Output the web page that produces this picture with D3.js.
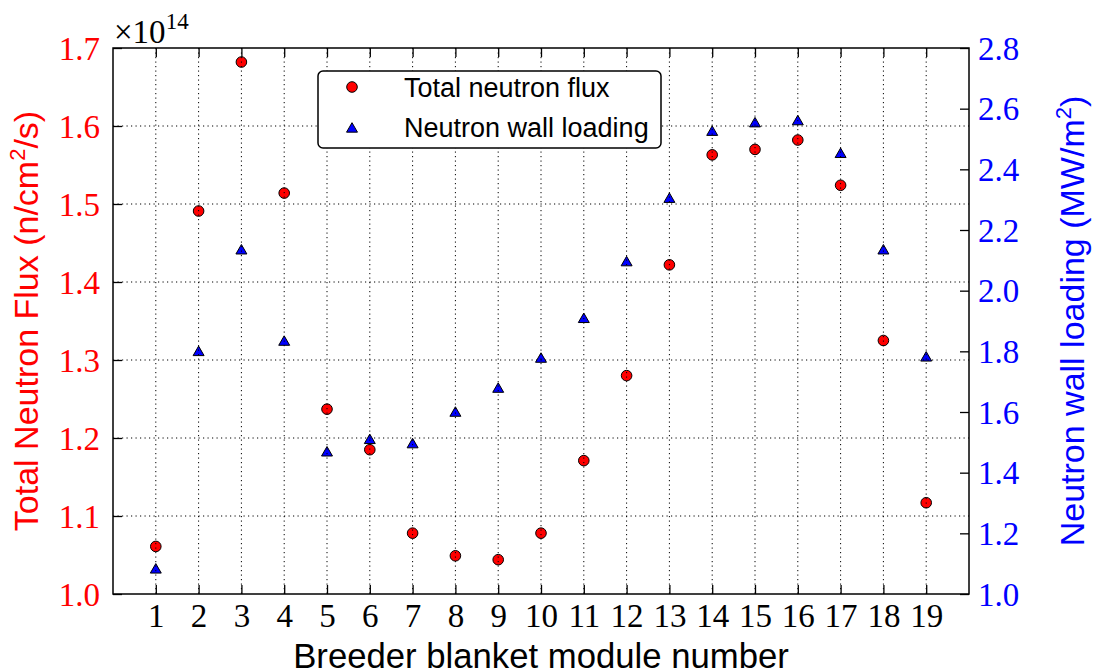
<!DOCTYPE html>
<html>
<head>
<meta charset="utf-8">
<script src="https://cdnjs.cloudflare.com/ajax/libs/d3/7.8.5/d3.min.js"></script>
<style>
  body { margin: 0; background: #fff; }
  .tick text { font-family: "Liberation Serif", "DejaVu Serif", serif; }
</style>
</head>
<body>
<script>
// Module numbers
var modules = [1, 2, 3, 4, 5, 6, 7, 8, 9, 10, 11, 12, 13, 14, 15, 16, 17, 18, 19];

// Total neutron flux (x 1e14 n/cm2/s)
var flux = [1.061, 1.491, 1.682, 1.514, 1.237, 1.185, 1.078, 1.049, 1.044, 1.078,
            1.171, 1.280, 1.422, 1.563, 1.570, 1.582, 1.524, 1.325, 1.117];

// Neutron wall loading (MW/m2)
var wallLoading = [1.081, 1.798, 2.133, 1.832, 1.467, 1.508, 1.494, 1.598, 1.677, 1.776,
                   1.907, 2.094, 2.303, 2.524, 2.552, 2.559, 2.451, 2.133, 1.780];

// Tick values
var xTicks = modules;
var leftTicks = [1.0, 1.1, 1.2, 1.3, 1.4, 1.5, 1.6, 1.7];
var rightTicks = [1.0, 1.2, 1.4, 1.6, 1.8, 2.0, 2.2, 2.4, 2.6, 2.8];

// Legend entries
var legendLabels = ["Total neutron flux", "Neutron wall loading"];

var W = 1097, H = 672;
var margin = {top: 48, right: 128, bottom: 78, left: 113};
var width = W - margin.left - margin.right;
var height = H - margin.top - margin.bottom;

var red = "#ff0000", blue = "#0000ff";

var svg = d3.select("body").append("svg")
    .attr("width", W)
    .attr("height", H);

var g = svg.append("g")
    .attr("transform", "translate(" + margin.left + "," + margin.top + ")");

// Scales
var x = d3.scaleLinear().domain([0, 20]).range([0, width]);
var yL = d3.scaleLinear().domain([1.0, 1.7]).range([height, 0]);
var yR = d3.scaleLinear().domain([1.0, 2.8]).range([height, 0]);

// Markers
g.selectAll(".flux")
    .data(modules)
    .enter().append("circle")
    .attr("class", "flux")
    .attr("cx", function(d) { return x(d); })
    .attr("cy", function(d, i) { return yL(flux[i]); })
    .attr("r", 5.3)
    .attr("fill", red)
    .attr("stroke", "#000")
    .attr("stroke-width", 1);

var tri = d3.symbol().type(d3.symbolTriangle).size(52);
g.selectAll(".wall")
    .data(modules)
    .enter().append("path")
    .attr("class", "wall")
    .attr("d", tri)
    .attr("transform", function(d, i) { return "translate(" + x(d) + "," + (yR(wallLoading[i]) + 0.5) + ")"; })
    .attr("fill", blue)
    .attr("stroke", "#000")
    .attr("stroke-width", 1);

// Grid lines (dotted)
g.append("g").selectAll("line")
    .data(xTicks)
    .enter().append("line")
    .attr("x1", function(d) { return x(d); })
    .attr("x2", function(d) { return x(d); })
    .attr("y1", 0).attr("y2", height)
    .attr("stroke", "#000").attr("stroke-width", 1)
    .attr("stroke-dasharray", "1.2,3.3");

g.append("g").selectAll("line")
    .data(leftTicks.slice(1, -1))
    .enter().append("line")
    .attr("x1", 0).attr("x2", width)
    .attr("y1", function(d) { return yL(d); })
    .attr("y2", function(d) { return yL(d); })
    .attr("stroke", "#000").attr("stroke-width", 1)
    .attr("stroke-dasharray", "1.2,3.3");

// Axes with inward ticks
var tickLen = 9;

var xAxis = g.append("g")
    .attr("transform", "translate(0," + height + ")")
    .call(d3.axisBottom(x).tickValues(xTicks).tickSize(-tickLen).tickPadding(10).tickFormat(d3.format("d")));
xAxis.selectAll("text").style("font-size", "33px").attr("fill", "#000");

var xTop = g.append("g")
    .call(d3.axisTop(x).tickValues(xTicks).tickSize(-tickLen).tickFormat(""));

var leftAxis = g.append("g")
    .call(d3.axisLeft(yL).tickValues(leftTicks).tickSize(-tickLen).tickPadding(13).tickFormat(d3.format(".1f")));
leftAxis.selectAll("text").style("font-size", "33px").attr("fill", red).attr("dy", "0.34em");

var rightAxis = g.append("g")
    .attr("transform", "translate(" + width + ",0)")
    .call(d3.axisRight(yR).tickValues(rightTicks).tickSize(-tickLen).tickPadding(9).tickFormat(d3.format(".1f")));
rightAxis.selectAll("text").style("font-size", "33px").attr("fill", blue).attr("dy", "0.34em");

[xAxis, xTop, leftAxis, rightAxis].forEach(function(a) {
  a.select(".domain").remove();
  a.selectAll(".tick line").attr("stroke", "#000").attr("stroke-width", 1.3);
});

// Frame
g.append("rect")
    .attr("width", width).attr("height", height)
    .attr("fill", "none").attr("stroke", "#000").attr("stroke-width", 1.5);

// Offset text x10^14
var offset = svg.append("text")
    .attr("x", 114).attr("y", 43)
    .style("font-family", "Liberation Serif, serif")
    .style("font-size", "33px")
    .attr("fill", "#000");
offset.append("tspan").text("\u00d710");
offset.append("tspan").attr("dy", -14).style("font-size", "23px").text("14");

// Axis labels
svg.append("text")
    .attr("x", margin.left + width / 2).attr("y", 668)
    .attr("text-anchor", "middle")
    .style("font-family", "Liberation Sans, Arial, sans-serif")
    .style("font-size", "34.7px")
    .text("Breeder blanket module number");

var yLabelL = svg.append("text")
    .attr("transform", "translate(38," + (margin.top + height / 2) + ") rotate(-90)")
    .attr("text-anchor", "middle")
    .attr("fill", red)
    .style("font-family", "Liberation Sans, Arial, sans-serif")
    .style("font-size", "34px");
yLabelL.append("tspan").text("Total Neutron Flux (n/cm");
yLabelL.append("tspan").attr("dy", -13).style("font-size", "22px").text("2");
yLabelL.append("tspan").attr("dy", 13).text("/s)");

var yLabelR = svg.append("text")
    .attr("transform", "translate(1084," + (margin.top + height / 2) + ") rotate(-90)")
    .attr("text-anchor", "middle")
    .attr("fill", blue)
    .style("font-family", "Liberation Sans, Arial, sans-serif")
    .style("font-size", "34px");
yLabelR.append("tspan").text("Neutron wall loading (MW/m");
yLabelR.append("tspan").attr("dy", -13).style("font-size", "22px").text("2");
yLabelR.append("tspan").attr("dy", 13).text(")");

// Legend
var legend = svg.append("g");
legend.append("rect")
    .attr("x", 318).attr("y", 71)
    .attr("width", 343).attr("height", 77)
    .attr("rx", 5).attr("ry", 5)
    .attr("fill", "#fff").attr("stroke", "#000").attr("stroke-width", 1.5);

legend.append("circle")
    .attr("cx", 352).attr("cy", 87).attr("r", 5.3)
    .attr("fill", red).attr("stroke", "#000");
legend.append("path")
    .attr("d", tri)
    .attr("transform", "translate(352,129)")
    .attr("fill", blue).attr("stroke", "#000");

legend.selectAll(".ltext")
    .data(legendLabels)
    .enter().append("text")
    .attr("x", 404)
    .attr("y", function(d, i) { return 97 + i * 40; })
    .style("font-family", "Liberation Sans, Arial, sans-serif")
    .style("font-size", "27px")
    .text(function(d) { return d; });
</script>
</body>
</html>
